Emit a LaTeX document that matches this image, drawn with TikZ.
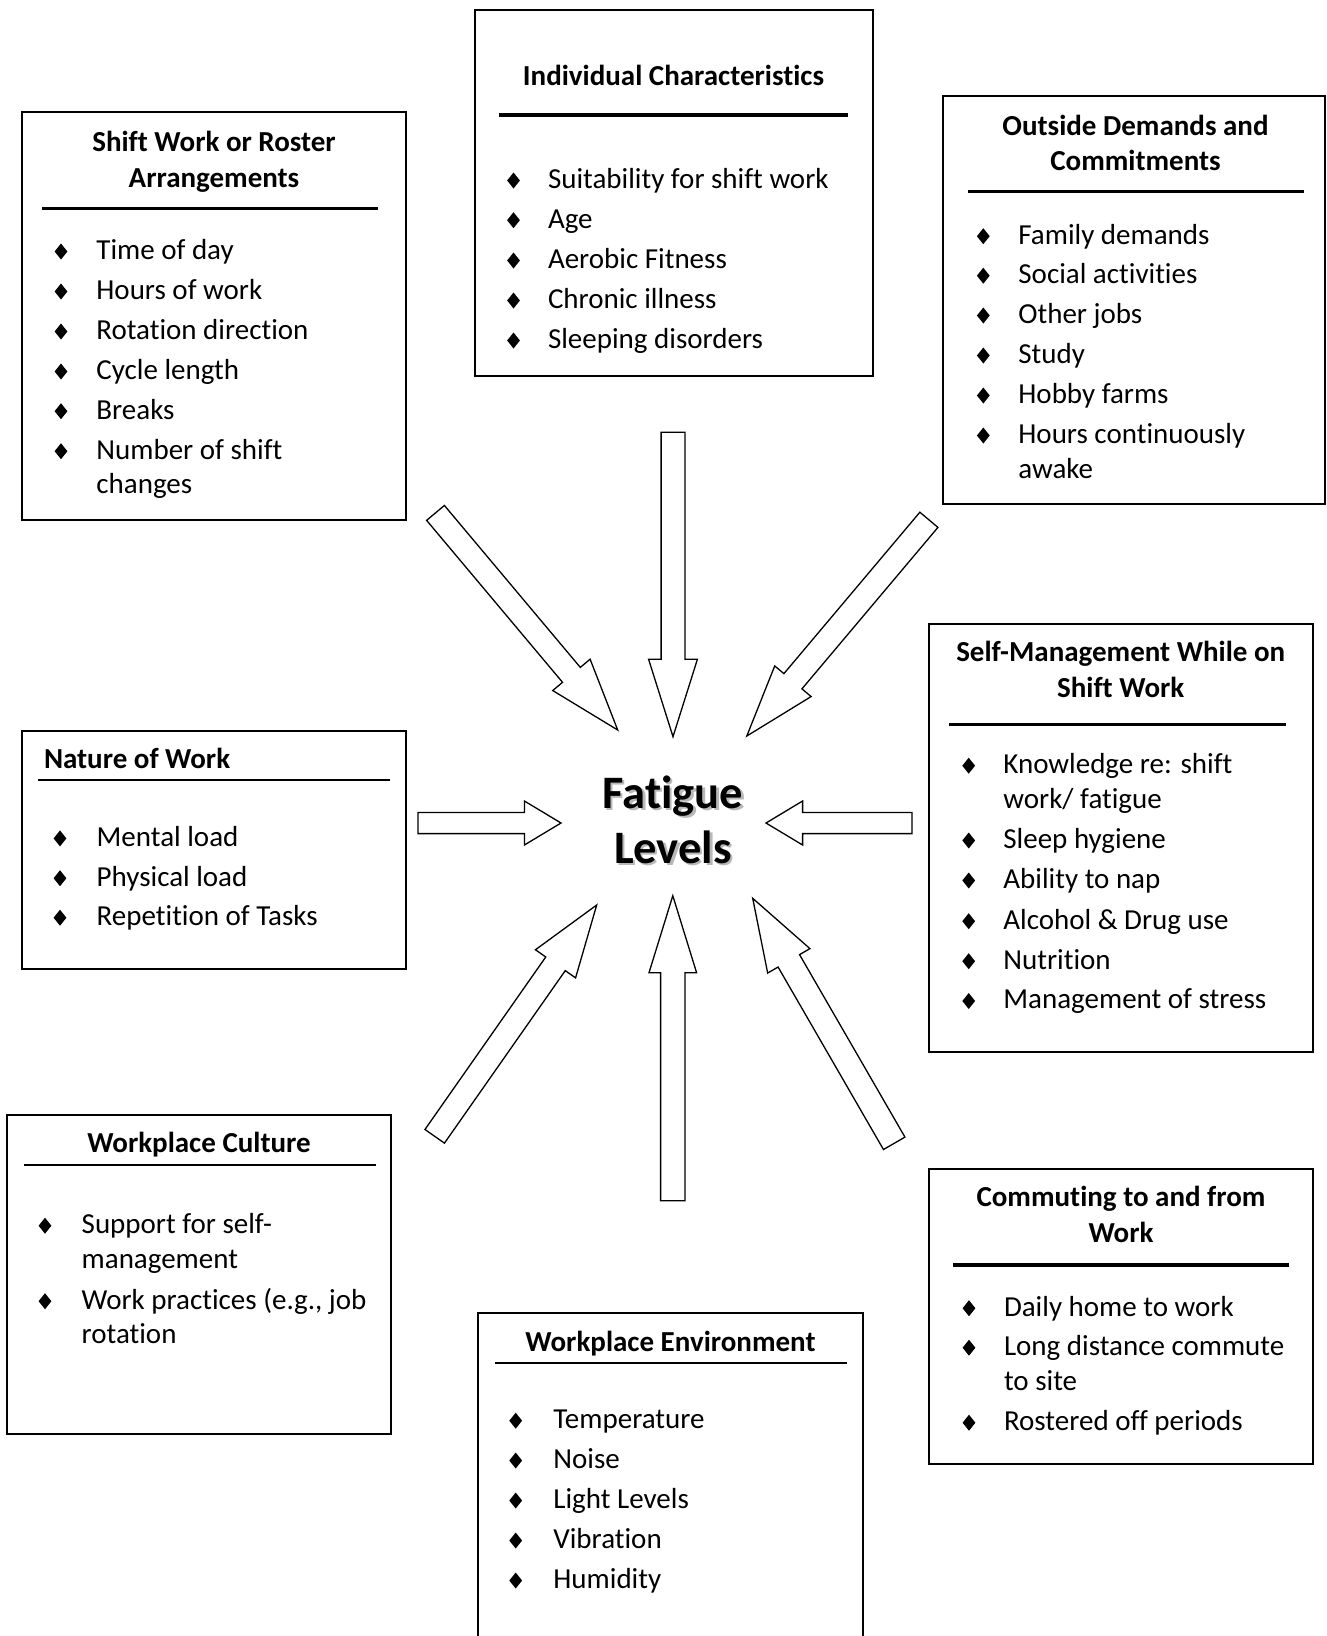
\documentclass[tikz,border=0pt]{standalone}
\usepackage{fontspec}
\setmainfont{Carlito}[Ligatures={NoCommon,NoContextual}]
\usetikzlibrary{calc}

\tikzset{every picture/.style={line width=1.4pt}}
\tikzset{
  box/.style={draw, line width=1.4pt},
  heading/.style={anchor=base, inner sep=0pt, font=\fontsize{29}{35}\selectfont\bfseries},
  item/.style={anchor=base west, inner sep=0pt, font=\fontsize{29}{35}\selectfont},
  thickrule/.style={line width=3.2pt},
  thinrule/.style={line width=1.7pt},
  bigtitle/.style={anchor=base, inner sep=0pt, font=\fontsize{46.5}{55}\selectfont\bfseries},
  fatarrow/.style n args={3}{draw, fill=white, line width=1.3pt, line join=miter, to path={
    ($(\tikztostart)!#1!90:(\tikztotarget)$)
    -- ($(\tikztotarget)!#3!(\tikztostart)!#1!90:(\tikztotarget)$)
    -- ($(\tikztotarget)!#3!(\tikztostart)!#2!90:(\tikztotarget)$)
    -- (\tikztotarget)
    -- ($(\tikztotarget)!#3!(\tikztostart)!#2!-90:(\tikztotarget)$)
    -- ($(\tikztotarget)!#3!(\tikztostart)!#1!-90:(\tikztotarget)$)
    -- ($(\tikztostart)!#1!-90:(\tikztotarget)$)
    -- cycle}},
  dmd/.pic={\fill (0,-8) -- (6.4,0) -- (0,8) -- (-6.4,0) -- cycle;},
}

\begin{document}
\begin{tikzpicture}[x=1pt,y=1pt,yscale=-1,xscale=1]
\useasboundingbox (0,0) rectangle (1327,1636);

%Boxes
\draw[box] (22,112) rectangle (406,520);
\draw[box] (475,10) rectangle (873,376);
\draw[box] (943,96) rectangle (1325,504);
\draw[box] (929,624) rectangle (1313,1052);
\draw[box] (22,731) rectangle (406,969);
\draw[box] (7,1115) rectangle (391,1434);
\draw[box] (478,1636) |- (863,1313) -- (863,1636);
\draw[box] (929,1169) rectangle (1313,1464);

%Rules under the headings
\draw[thickrule] (42,208.3) -- (378,208.3);
\draw[thickrule] (499,115) -- (848,115);
\draw[thickrule] (968,191.7) -- (1304,191.7);
\draw[thickrule] (949,724.3) -- (1286,724.3);
\draw[thinrule] (38,780) -- (390,780);
\draw[thinrule] (24,1165) -- (376,1165);
\draw[thinrule] (495,1362.7) -- (847,1362.7);
\draw[thickrule] (953,1265) -- (1289,1265);

% Shift work
\node[heading] (sw-h1) at (214,151.5) {Shift Work or Roster};
\node[heading] (sw-h2) at (214,187.3) {Arrangements};
\node[item] (sw1) at (95.7,259.3) {Time of day};
\node[item] (sw2) at (95.7,299.3) {Hours of work};
\node[item] (sw3) at (95.7,339.3) {Rotation direction};
\node[item] (sw4) at (95.7,379.3) {Cycle length};
\node[item] (sw5) at (95.7,419) {Breaks};
\node[item] (sw6) at (95.7,459) {Number of shift};
\node[item] (sw6b) at (95.7,493.3) {changes};
\foreach \n in {sw1,sw2,sw3,sw4,sw5,sw6}
  \pic at ([shift={(-34.7,-7.8)}]\n.base west) {dmd};

% Individual characteristics
\node[heading] (ic-h) at (673.5,85) {Individual Characteristics};
\node[item] (ic1) at (547.3,188.3) {Suitability for shift work};
\node[item] (ic2) at (547.3,228) {Age};
\node[item] (ic3) at (547.3,268.3) {Aerobic Fitness};
\node[item] (ic4) at (547.3,308.3) {Chronic illness};
\node[item] (ic5) at (547.3,348.3) {Sleeping disorders};
\foreach \n in {ic1,ic2,ic3,ic4,ic5}
  \pic at ([shift={(-33.8,-7.8)}]\n.base west) {dmd};

% Outside demands
\node[heading] (od-h1) at (1135.5,135) {Outside Demands and};
\node[heading] (od-h2) at (1135.5,170.5) {Commitments};
\node[item] (od1) at (1017.7,244) {Family demands};
\node[item] (od2) at (1017.7,283.5) {Social activities};
\node[item] (od3) at (1017.7,323.3) {Other jobs};
\node[item] (od4) at (1017.7,363.3) {Study};
\node[item] (od5) at (1017.7,403.3) {Hobby farms};
\node[item] (od6) at (1017.7,443.3) {Hours continuously};
\node[item] (od6b) at (1017.7,478.8) {awake};
\foreach \n in {od1,od2,od3,od4,od5,od6}
  \pic at ([shift={(-34.4,-7.8)}]\n.base west) {dmd};

% Self-management
\node[heading] (sm-h1) at (1120.7,661.5) {Self-Management While on};
\node[heading] (sm-h2) at (1120.7,697) {Shift Work};
\node[item] (sm1) at (1002.7,773.5) {Knowledge re: shift};
\node[item] (sm1b) at (1002.7,808.3) {work/ fatigue};
\node[item] (sm2) at (1002.7,848.3) {Sleep hygiene};
\node[item] (sm3) at (1002.7,888.3) {Ability to nap};
\node[item] (sm4) at (1002.7,929) {Alcohol \& Drug use};
\node[item] (sm5) at (1002.7,969) {Nutrition};
\node[item] (sm6) at (1002.7,1008.8) {Management of stress};
\foreach \n in {sm1,sm2,sm3,sm4,sm5,sm6}
  \pic at ([shift={(-34,-7.8)}]\n.base west) {dmd};

% Nature of work
\node[heading, anchor=base west] (nw-h) at (43.3,768.3) {Nature of Work};
\node[item] (nw1) at (96,846.2) {Mental load};
\node[item] (nw2) at (96,886) {Physical load};
\node[item] (nw3) at (96,925.5) {Repetition of Tasks};
\foreach \n in {nw1,nw2,nw3}
  \pic at ([shift={(-36,-7.8)}]\n.base west) {dmd};

% Workplace culture
\node[heading] (wc-h) at (199,1152) {Workplace Culture};
\node[item] (wc1) at (81,1233.5) {Support for self-};
\node[item] (wc1b) at (81,1268.3) {management};
\node[item] (wc2) at (81,1309) {Work practices (e.g., job};
\node[item] (wc2b) at (81,1343.5) {rotation};
\foreach \n in {wc1,wc2}
  \pic at ([shift={(-36,-7.8)}]\n.base west) {dmd};

% Workplace environment
\node[heading] (we-h) at (670.5,1351) {Workplace Environment};
\node[item] (we1) at (552.7,1428.5) {Temperature};
\node[item] (we2) at (552.7,1468.3) {Noise};
\node[item] (we3) at (552.7,1508.3) {Light Levels};
\node[item] (we4) at (552.7,1548.3) {Vibration};
\node[item] (we5) at (552.7,1588.3) {Humidity};
\foreach \n in {we1,we2,we3,we4,we5}
  \pic at ([shift={(-37,-7.8)}]\n.base west) {dmd};

% Commuting
\node[heading] (cm-h1) at (1121,1206.8) {Commuting to and from};
\node[heading] (cm-h2) at (1121,1242) {Work};
\node[item] (cm1) at (1003.3,1316) {Daily home to work};
\node[item] (cm2) at (1003.3,1355.5) {Long distance commute};
\node[item] (cm2b) at (1003.3,1390.5) {to site};
\node[item] (cm3) at (1003.3,1430.5) {Rostered off periods};
\foreach \n in {cm1,cm2,cm3}
  \pic at ([shift={(-34.3,-7.8)}]\n.base west) {dmd};

% Centre
\node[bigtitle, text=black!28] (fat1s) at (675.2,810.5) {Fatigue};
\node[bigtitle, text=black!28] (fat2s) at (675.2,865.5) {Levels};
\node[bigtitle] (fat1) at (673,808.3) {Fatigue};
\node[bigtitle] (fat2) at (673,863.3) {Levels};

% Block arrows
\coordinate (tl-tail) at (435.5,512.9);  \coordinate (tl-tip) at (617.7,730);
\coordinate (tm-tail) at (673,432.3);    \coordinate (tm-tip) at (673,736.7);
\coordinate (tr-tail) at (928.9,519.8);  \coordinate (tr-tip) at (746.8,736);
\coordinate (l-tail) at (418,823);       \coordinate (l-tip) at (561,823);
\coordinate (r-tail) at (912,823);       \coordinate (r-tip) at (766,823);
\coordinate (bl-tail) at (434.7,1136.3); \coordinate (bl-tip) at (596.7,905);
\coordinate (bm-tail) at (672.8,1200.7); \coordinate (bm-tip) at (672.8,895.7);
\coordinate (br-tail) at (894.2,1143.3); \coordinate (br-tip) at (752.7,898.3);

\draw[fatarrow={11.6pt}{24.4pt}{72pt}] (tl-tail) to (tl-tip);
\draw[fatarrow={11.9pt}{24.4pt}{77.4pt}] (tm-tail) to (tm-tip);
\draw[fatarrow={11.8pt}{23.8pt}{71.6pt}] (tr-tail) to (tr-tip);
\draw[fatarrow={10.6pt}{22pt}{36.6pt}] (l-tail) to (l-tip);
\draw[fatarrow={10.6pt}{22pt}{36.6pt}] (r-tail) to (r-tip);
\draw[fatarrow={11.9pt}{24.5pt}{71.8pt}] (bl-tail) to (bl-tip);
\draw[fatarrow={12.2pt}{23.8pt}{77pt}] (bm-tail) to (bm-tip);
\draw[fatarrow={12.4pt}{24.4pt}{72.2pt}] (br-tail) to (br-tip);

\end{tikzpicture}
\end{document}
